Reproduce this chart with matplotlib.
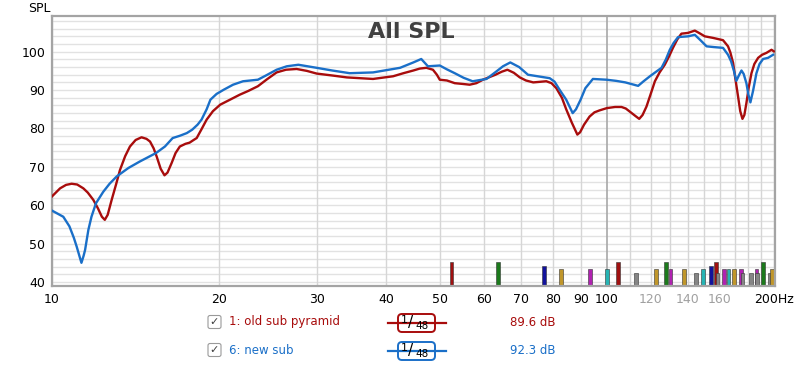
import matplotlib
matplotlib.use("Agg")
import matplotlib.pyplot as plt
from matplotlib.ticker import MultipleLocator, NullLocator
from matplotlib.patches import FancyBboxPatch

# curva 1: old sub pyramid
red_freq = [10.0, 10.34, 10.6, 10.85, 11.1, 11.39, 11.6, 11.87, 12.1, 12.3, 12.45, 12.6, 12.81,
            13.05, 13.26, 13.55, 13.82, 14.15, 14.5, 14.8, 15.02, 15.25, 15.44, 15.7, 15.95,
            16.15, 16.43, 16.7, 17.0, 17.4, 17.7, 18.0, 18.23, 18.6, 19.0, 19.5, 20.1, 21.0,
            21.8, 22.6, 23.5, 24.4, 25.4, 26.4, 27.6, 28.8, 30.0, 32.0, 34.0, 37.9, 41.2, 43.0,
            44.8, 46.0, 47.3, 48.6, 49.4, 50.0, 51.5, 53.2, 55.0, 56.6, 58.2, 59.8, 61.5, 63.0,
            64.7, 66.2, 68.0, 69.7, 71.5, 73.7, 77.8, 79.5, 81.1, 83.0, 84.5, 86.5, 88.5, 89.5,
            91.0, 93.1, 95.0, 97.0, 100.0, 103.5, 106.3, 108.2, 110.0, 112.5, 114.4, 116.0,
            117.9, 120.0, 122.1, 124.5, 127.2, 129.5, 131.6, 134.0, 136.3, 138.3, 140.1, 144.1,
            147.0, 150.2, 155.4, 162.0, 165.4, 167.0, 168.9, 170.5, 172.4, 174.0, 175.6, 177.0,
            178.5, 180.3, 182.3, 184.5, 187.4, 190.5, 194.0, 198.1, 200.0]
red_spl = [62.3, 64.4, 65.3, 65.6, 65.4, 64.4, 63.3, 61.4, 59.2, 57.0, 56.2, 57.5, 61.4,
           65.5, 69.2, 72.8, 75.3, 77.0, 77.7, 77.3, 76.6, 74.8, 72.7, 69.5, 67.8,
           68.5, 71.0, 73.6, 75.3, 76.0, 76.3, 77.0, 77.5, 79.8, 82.3, 84.5, 86.2, 87.6,
           88.8, 89.8, 91.0, 92.8, 94.6, 95.3, 95.5, 95.0, 94.3, 93.8, 93.3, 92.9, 93.6, 94.4,
           95.1, 95.6, 95.8, 95.3, 94.0, 92.7, 92.5, 91.8, 91.6, 91.4, 91.8, 92.7, 93.4, 94.0,
           94.8, 95.3, 94.5, 93.3, 92.5, 92.0, 92.3, 91.8, 90.5, 88.0, 85.0, 81.5, 78.4, 79.0,
           81.0, 83.1, 84.2, 84.7, 85.3, 85.6, 85.6, 85.2, 84.4, 83.3, 82.5, 83.5,
           85.7, 89.0, 92.3, 94.6, 96.6, 98.8, 101.0, 103.2, 104.7, 104.8, 104.9, 105.5,
           104.8, 104.0, 103.6, 103.0, 101.4, 99.8, 97.1, 93.0, 88.4, 84.5, 82.5, 83.5,
           86.6, 90.8, 94.4, 96.8, 98.4, 99.2, 99.7, 100.5, 100.1]

# curva 6: new sub
blue_freq = [10.0, 10.48, 10.75, 10.95, 11.08, 11.23, 11.3, 11.4, 11.47, 11.63, 11.78, 12.0, 12.37,
             12.7, 13.08, 13.73, 14.4, 15.4, 15.98, 16.5, 17.0, 17.5, 17.9, 18.3, 18.6, 19.0,
             19.3, 19.8, 20.4, 21.2, 22.1, 23.5, 24.3, 25.4, 26.5, 27.8, 30.0, 32.0, 34.4, 37.9,
             42.4, 44.8, 46.3, 47.6, 50.0, 51.5, 53.2, 55.2, 57.3, 60.7, 63.3, 65.0, 67.0, 69.5,
             72.1, 78.9, 80.5, 82.2, 84.5, 86.8, 88.0, 89.7, 91.5, 94.4, 99.9, 104.0, 108.0,
             113.9, 116.5, 119.6, 122.5, 125.5, 127.8, 129.9, 132.0, 134.4, 137.0, 140.1, 144.1,
             147.5, 151.3, 156.0, 162.0, 165.4, 167.5, 169.5, 171.2, 173.0, 174.9, 176.5, 178.5,
             180.0, 181.5, 183.5, 186.1, 188.5, 191.3, 195.3, 199.4]
blue_spl = [58.6, 57.0, 54.5, 51.5, 49.2, 46.3, 45.0, 46.8, 48.3, 53.6, 57.0, 60.5, 63.5,
            65.6, 67.5, 69.7, 71.4, 73.6, 75.3, 77.5, 78.1, 78.8, 79.7, 81.0, 82.3, 85.0,
            87.5, 89.0, 90.1, 91.4, 92.3, 92.7, 93.8, 95.3, 96.2, 96.6, 95.8, 95.1, 94.4, 94.6,
            95.8, 97.2, 98.1, 96.2, 96.4, 95.4, 94.4, 93.2, 92.3, 92.9, 94.9, 96.2, 97.2, 96.0,
            94.0, 93.1, 92.2, 90.1, 87.5, 84.0, 85.0, 87.5, 90.5, 92.9, 92.7, 92.4, 92.0,
            91.1, 92.3, 93.6, 94.7, 95.8, 98.0, 100.5, 102.3, 103.8, 103.9, 104.0, 104.4,
            103.0, 101.4, 101.2, 101.0, 99.2, 97.5, 95.0, 92.4, 93.8, 95.1, 94.2, 91.8,
            88.8, 86.8, 89.8, 94.4, 96.8, 98.1, 98.4, 99.2]

# barrinhas em baixo
bar_freq = [52.5, 63.7, 77.0, 82.7, 93.3, 100.1, 104.8, 112.8, 122.7, 127.8, 130.3, 137.8, 144.7,
            149.1, 154.2, 157.2, 158.3, 162.5, 165.7, 169.6, 174.8, 175.6, 181.8, 186.1, 186.6,
            191.3, 196.7, 198.6]
bar_level = [45.2, 45.2, 44.2, 43.3, 43.3, 43.3, 45.2, 42.3, 43.3, 45.2, 43.3, 43.3, 42.3,
             43.3, 44.2, 45.2, 42.3, 43.3, 43.3, 43.3, 43.3, 42.3, 42.3, 43.3, 42.3,
             45.2, 42.3, 43.3]
bar_color = ["#a01010", "#1c7a1c", "#12129c", "#c0962a", "#b022b0", "#26b4b4", "#a01010", "#858585",
             "#c0962a", "#1c7a1c", "#b022b0", "#c0962a", "#858585", "#26b4b4", "#12129c", "#a01010",
             "#858585", "#b022b0", "#26b4b4", "#c0962a", "#b022b0", "#858585", "#858585", "#b022b0",
             "#858585", "#1c7a1c", "#858585", "#c0962a"]

xtick_vals = [10, 20, 30, 40, 50, 60, 70, 80, 90, 100, 120, 140, 160, 200]
xtick_labels = ["10", "20", "30", "40", "50", "60", "70", "80", "90", "100", "120", "140", "160", "200Hz"]
ytick_vals = [40, 50, 60, 70, 80, 90, 100]

RED = "#a80c0c"
BLUE = "#1a6fc8"
W, H = 800, 367

fig = plt.figure(figsize=(W / 100, H / 100), dpi=100)

# camada de fundo em pixels para a legenda
leg = fig.add_axes([0, 0, 1, 1], zorder=-1)
leg.set_xlim(0, W)
leg.set_ylim(H, 0)
leg.axis("off")

ax = fig.add_axes([52 / W, 1 - 286 / H, (775 - 52) / W, (286 - 16) / H])
ax.set_xscale("log")
ymin = 38.96
ax.set_xlim(10, 201)
ax.set_ylim(ymin, 109.3)

# grelha
ax.yaxis.set_major_locator(MultipleLocator(10))
ax.yaxis.set_minor_locator(MultipleLocator(2))
ax.grid(True, axis="y", which="both", color="#e2e2e2", lw=1, zorder=0)
ax.set_axisbelow(True)
for f in list(range(10, 100, 10)) + list(range(110, 201, 10)):
    ax.axvline(f, color="#d6d6d6", lw=1, zorder=1)
ax.axvline(100, color="#a8a8a8", lw=1.2, zorder=1)

ax.plot(red_freq, red_spl, color=RED, lw=1.7, zorder=3)
ax.plot(blue_freq, blue_spl, color=BLUE, lw=1.7, zorder=4)

widths = [f * 0.016 for f in bar_freq]
heights = [b - ymin for b in bar_level]
ax.bar(bar_freq, heights, bottom=ymin, width=widths, color=bar_color,
       edgecolor="#333333", linewidth=0.4, zorder=2)

ax.set_xticks(xtick_vals)
ax.set_xticklabels(xtick_labels)
ax.xaxis.set_minor_locator(NullLocator())
ax.set_yticks(ytick_vals)
ax.tick_params(axis="both", which="both", length=0, labelsize=9)
ax.tick_params(axis="x", pad=5)
ax.tick_params(axis="y", pad=5)
for lab in ax.get_xticklabels():
    if lab.get_text() in ("120", "140", "160"):
        lab.set_color("#a0a0a0")

for s in ax.spines.values():
    s.set_color("#a4a4a4")
    s.set_linewidth(1.6)

ax.text(0.497, 0.94, "All SPL", transform=ax.transAxes, ha="center", va="center",
        fontsize=16, fontweight="bold", color="#404040")
fig.text(28 / W, 1 - 8 / H, "SPL", fontsize=9, ha="left", va="center")

# legenda
rows = [(322, RED, "1: old sub pyramid", "89.6 dB"), (350, BLUE, "6: new sub", "92.3 dB")]
for y, c, name, val in rows:
    leg.add_patch(FancyBboxPatch((208, y - 6.5), 13, 13, boxstyle="round,pad=0,rounding_size=2",
                                 facecolor="white", edgecolor="#9a9a9a", lw=0.8))
    leg.text(214.5, y, "\u2713", fontsize=8, ha="center", va="center", color="#404040")
    leg.text(229, y, name, fontsize=8.5, ha="left", va="center", color=c)
    leg.plot([388, 446], [y + 1, y + 1], color=c, lw=1.6)
    leg.add_patch(FancyBboxPatch((398, y - 8), 37, 18, boxstyle="round,pad=0,rounding_size=4",
                                 facecolor="white", edgecolor=c, lw=1.4))
    leg.text(404, y - 2, "1", fontsize=8, ha="center", va="center", color="black")
    leg.text(411, y + 1, "/", fontsize=11, ha="center", va="center", color="black")
    leg.text(422, y + 4, "48", fontsize=7.5, ha="center", va="center", color="black")
    leg.text(555, y, val, fontsize=8.5, ha="right", va="center", color=c)

fig.savefig("out.png", dpi=100)
